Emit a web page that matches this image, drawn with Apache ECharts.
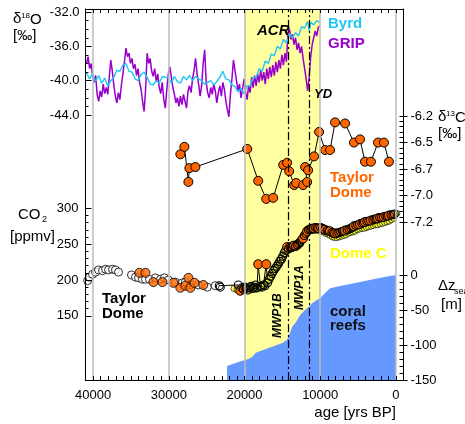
<!DOCTYPE html>
<html><head><meta charset="utf-8">
<script src="https://cdn.jsdelivr.net/npm/echarts@6/dist/echarts.min.js"></script>
<style>html,body{margin:0;padding:0;background:#fff}#c{width:465px;height:424px}</style>
</head><body><div id="c"></div>
<script>
// ---------- data ----------
const ageTickLabels = [40000, 30000, 20000, 10000, 0];
const d13Labels = ['-7.2', '-7.0', '-6.7', '-6.5', '-6.2'];
const bandAges = [20000, 10000];          // yellow band (ACR/YD period)
const mwpAges = [14200, 11500];           // MWP1B, MWP1A dash-dot lines

const grip = [[40860,-38.0],[40660,-37.2],[40460,-38.6],[40260,-38.0],[40060,-39.5],[39860,-40.2],[39660,-39.4],[39460,-41.6],[39260,-42.4],[39060,-41.2],[38860,-41.9],[38660,-40.4],[38460,-41.5],[38260,-40.8],[38060,-41.6],[37860,-39.6],[37660,-37.6],[37460,-38.9],[37260,-40.5],[37060,-41.8],[36860,-42.6],[36660,-41.4],[36460,-42.2],[36260,-40.5],[36060,-39.2],[35860,-37.8],[35660,-36.2],[35460,-37.2],[35260,-36.8],[35060,-38.0],[34860,-37.4],[34660,-38.6],[34460,-38.1],[34260,-39.4],[34060,-38.6],[33860,-40.2],[33660,-41.0],[33460,-42.4],[33260,-43.6],[33060,-41.0],[32860,-36.8],[32660,-38.0],[32460,-37.4],[32260,-38.9],[32060,-39.5],[31860,-38.6],[31660,-40.1],[31460,-39.2],[31260,-40.8],[31060,-41.5],[30860,-40.2],[30660,-42.2],[30460,-43.2],[30260,-41.0],[30060,-39.2],[29860,-38.4],[29660,-39.6],[29460,-40.8],[29260,-41.6],[29060,-42.6],[28860,-42.0],[28660,-43.0],[28460,-41.8],[28260,-42.8],[28060,-41.6],[27860,-42.4],[27660,-43.2],[27460,-41.2],[27260,-40.6],[27060,-41.4],[26860,-39.8],[26660,-38.8],[26460,-37.4],[26260,-39.2],[26060,-40.4],[25860,-41.8],[25660,-40.6],[25460,-38.0],[25260,-36.4],[25060,-40.2],[24860,-41.4],[24660,-42.0],[24460,-40.8],[24260,-41.6],[24060,-40.4],[23860,-41.2],[23660,-42.6],[23460,-41.4],[23260,-40.6],[23060,-41.8],[22860,-40.2],[22660,-41.0],[22460,-42.4],[22260,-43.4],[22060,-44.2],[21860,-41.6],[21660,-39.8],[21460,-37.6],[21260,-38.8],[21060,-40.0],[20860,-41.2],[20660,-40.4],[20460,-42.0],[20260,-41.0],[20060,-39.8],[19860,-41.4],[19660,-42.2],[19460,-40.6],[19260,-41.4],[19060,-39.6],[18860,-40.8],[18660,-39.4],[18460,-40.6],[18260,-39.2],[18060,-40.2],[17860,-38.8],[17660,-40.0],[17460,-39.0],[17260,-40.4],[17060,-38.6],[16860,-39.8],[16660,-38.4],[16460,-39.6],[16260,-38.2],[16060,-39.4],[15860,-37.8],[15660,-39.0],[15460,-37.6],[15260,-38.6],[15060,-37.0],[14860,-38.2],[14660,-36.8],[14460,-37.8],[14260,-34.4],[14060,-34.0],[13860,-35.2],[13660,-34.6],[13460,-35.8],[13260,-35.0],[13060,-36.4],[12860,-35.6],[12660,-36.8],[12460,-36.0],[12260,-37.4],[12060,-38.6],[11860,-39.8],[11660,-41.2],[11460,-39.6],[11260,-37.2],[11060,-35.8],[10860,-35.0],[10660,-34.2],[10460,-34.8],[10260,-33.8],[10060,-33.6]];

const byrd = [[40860,-39.1],[40460,-39.8],[40060,-39.2],[39660,-40.1],[39260,-39.4],[38860,-40.3],[38460,-39.7],[38060,-40.6],[37660,-40.0],[37260,-39.6],[36860,-38.8],[36460,-38.9],[36060,-38.2],[35660,-38.0],[35260,-38.9],[34860,-39.0],[34460,-39.8],[34060,-40.0],[33660,-39.3],[33260,-39.0],[32860,-39.6],[32460,-40.4],[32060,-40.5],[31660,-40.0],[31260,-40.3],[30860,-39.5],[30460,-39.6],[30060,-39.7],[29660,-40.3],[29260,-39.5],[28860,-40.1],[28460,-40.3],[28060,-39.5],[27660,-39.9],[27260,-39.4],[26860,-40.0],[26460,-39.5],[26060,-39.8],[25660,-40.0],[25260,-40.4],[24860,-40.2],[24460,-40.0],[24060,-40.5],[23660,-40.1],[23260,-39.6],[22860,-38.9],[22460,-39.8],[22060,-39.9],[21660,-40.5],[21260,-40.7],[20860,-41.3],[20460,-40.9],[20060,-41.5],[19660,-40.6],[19260,-40.6],[18860,-39.6],[18460,-39.6],[18060,-38.6],[17660,-38.9],[17260,-37.7],[16860,-38.0],[16460,-36.9],[16060,-37.1],[15660,-36.0],[15260,-36.3],[14860,-35.2],[14460,-35.6],[14060,-34.6],[13660,-35.0],[13260,-34.4],[12860,-34.8],[12460,-33.7],[12060,-33.9],[11660,-33.1],[11460,-34.2],[11260,-33.2],[10860,-33.5],[10460,-33.0],[10060,-33.2]];

const tdD13C = [[28470,-6.56],[27940,-6.49],[27410,-6.82],[27280,-6.69],[26490,-6.68],[19640,-6.51],[18190,-6.81],[17130,-6.98],[16210,-6.97],[14890,-6.66],[14370,-6.64],[14100,-6.72],[13440,-6.85],[13180,-6.83],[12260,-6.85],[11730,-6.82],[11990,-6.68],[11600,-6.71],[10810,-6.58],[10150,-6.35],[9360,-6.52],[8700,-6.52],[8040,-6.26],[6720,-6.27],[5540,-6.45],[4740,-6.42],[4090,-6.63],[3300,-6.63],[2370,-6.45],[1580,-6.45],[920,-6.63]];

const tdCO2Open = [[40720,199],[40460,204],[40070,208],[39670,211],[39280,214],[38750,213],[38350,215],[37960,214],[37430,215],[37040,214],[36640,211],[34930,207],[34400,204],[34000,203],[33480,201],[33080,201],[32550,201],[31760,203],[31100,201],[30580,203],[30050,200],[29130,197],[28210,196],[27810,197],[27150,193],[26100,193],[24910,190],[23860,192]];
const tdCO2Orange = [[33870,210],[33080,210],[32030,197],[30840,197],[29390,196],[28470,189],[27810,192],[27410,203],[27150,189],[26620,196],[25440,193]];
// deglacial / Holocene Taylor Dome CO2, connected; third field 1 = orange sample
const tdCO2Recent = [[23330,192,0],[23200,190,0],[20820,193,0],[20560,185,1],[20350,189,0],[20150,187,0],[19950,190,0],[19750,188,0],[19550,186,0],[19350,189,0],[19150,191,0],[18950,188,0],[18750,190,0],[18550,193,0],[18350,189,0],[18190,222,1],[17900,191,0],[17700,190,0],[17500,193,0],[17300,192,0],[17130,222,1],[16950,196,0],[16750,201,0],[16550,205,0],[16350,209,0],[16150,213,0],[15950,216,0],[15750,219,0],[15550,222,0],[15350,226,0],[15150,229,0],[14950,233,0],[14750,238,0],[14550,241,0],[14370,246,1],[14200,243,0],[14000,246,0],[13800,245,0],[13600,248,0],[13440,248,1],[13250,247,0],[13050,249,0],[12850,251,0],[12650,253,0],[12450,256,0],[12260,258,1],[12100,262,0],[11900,265,0],[11730,268,1],[11550,270,0],[11350,271,0],[11150,272,0],[10950,271,0],[10810,272,1],[10600,273,0],[10400,272,0],[10150,272,1],[9950,273,0],[9700,272,0],[9500,270,0],[9360,270,1],[9100,269,0],[8900,268,0],[8700,268,1],[8450,266,0],[8250,265,0],[8040,265,1],[7800,265,0],[7550,266,0],[7300,267,0],[7050,268,0],[6720,269,1],[6450,270,0],[6200,271,0],[5950,272,0],[5700,274,0],[5540,275,1],[5300,276,0],[5050,277,0],[4740,278,1],[4500,279,0],[4300,280,0],[4090,281,1],[3850,282,0],[3600,282,0],[3300,283,1],[3050,284,0],[2800,285,0],[2600,285,0],[2370,286,1],[2150,287,0],[1900,287,0],[1580,288,1],[1350,289,0],[1150,289,0],[920,290,1],[650,291,0],[400,291,0],[200,292,0]];

const domeC = [[21400,188],[21000,186],[20600,189],[20200,187],[19800,190],[19400,188],[19000,189],[18600,187],[18200,190],[17800,191],[17400,194],[17000,198],[16600,204],[16200,210],[15800,216],[15400,222],[15000,228],[14700,235],[14400,240],[14100,243],[13800,244],[13500,246],[13200,245],[12900,247],[12600,250],[12300,256],[12000,262],[11700,266],[11400,268],[11100,269],[10800,270],[10500,269],[10200,270],[9900,268],[9600,267],[9300,265],[9000,264],[8700,262],[8400,260],[8100,259],[7800,259],[7500,260],[7200,261],[6900,262],[6600,263],[6300,265],[6000,266],[5700,267],[5400,268],[5100,270],[4800,271],[4500,272],[4200,272],[3900,273],[3600,274],[3300,275],[3000,276],[2700,277],[2400,277],[2100,278],[1800,279],[1500,280],[1200,281],[900,282],[600,284],[300,286],[-130,293]];

const coral = [[22300,-130],[21000,-125],[19500,-120],[19000,-117],[18500,-111],[18000,-109],[17000,-105],[16000,-101],[15000,-97],[14400,-93],[14200,-88],[13900,-80],[13700,-74],[13200,-67],[12650,-57],[12100,-51],[11600,-46],[11000,-40],[10500,-36],[10000,-33],[9400,-26],[8700,-19],[7500,-16],[5700,-12],[3000,-6],[1500,-3],[0,0]];

// ---------- chart ----------
const FF = '"Liberation Sans", Arial, sans-serif';
const L = 85.5, R = 61.5;
const ageMin = -1000, ageMax = 41000;
const blk = {color: '#000', width: 1};

function hx(g) {
  return {type: 'value', gridIndex: g, min: ageMin, max: ageMax, interval: 1000, inverse: true, show: false,
    axisLine: {onZero: false}};
}
const lab = {color: '#000', fontFamily: FF, fontSize: 13};
const openStyle = {color: '#fff', borderColor: '#000', borderWidth: 1};
const orangeStyle = {color: '#FF6600', borderColor: '#000', borderWidth: 1};

const option = {
  animation: false,
  backgroundColor: '#fff',
  grid: [
    {left: L, right: R, top: 9, bottom: 44, outerBoundsMode: 'none'},
    {left: L, right: R, top: 12, bottom: 424 - 115, outerBoundsMode: 'none'},
    {left: L, right: R, top: 208.3, bottom: 424 - 315.8, outerBoundsMode: 'none'},
    {left: L, right: R, top: 116, bottom: 424 - 222.3, outerBoundsMode: 'none'},
    {left: L, right: R, top: 275, bottom: 44, outerBoundsMode: 'none'}
  ],
  xAxis: [
    {type: 'value', gridIndex: 0, position: 'bottom', min: ageMin, max: ageMax, interval: 1000, inverse: true, z: 10,
      axisLine: {show: true, onZero: false, lineStyle: blk},
      axisTick: {show: true, inside: true, length: 4, lineStyle: blk},
      axisLabel: Object.assign({margin: 9, formatter: v => ageTickLabels.includes(v) ? String(v) : ''}, lab),
      splitLine: {show: false}},
    {type: 'value', gridIndex: 0, position: 'top', min: ageMin, max: ageMax, interval: 1000, inverse: true, z: 10,
      axisLine: {show: true, onZero: false, lineStyle: blk},
      axisTick: {show: true, inside: true, length: 4, lineStyle: blk},
      axisLabel: {show: false}, splitLine: {show: false}},
    hx(1), hx(2), hx(3), hx(4)
  ],
  yAxis: [
    {type: 'value', gridIndex: 0, position: 'left', min: 0, max: 1, z: 10,
      axisLine: {show: true, onZero: false, lineStyle: blk}, axisTick: {show: false}, axisLabel: {show: false}, splitLine: {show: false}},
    {type: 'value', gridIndex: 0, position: 'right', min: 0, max: 1, z: 10,
      axisLine: {show: true, onZero: false, lineStyle: blk}, axisTick: {show: false}, axisLabel: {show: false}, splitLine: {show: false}},
    {type: 'value', gridIndex: 1, position: 'left', min: -44, max: -32, interval: 4, z: 10,
      axisLine: {show: false, onZero: false},
      axisTick: {show: true, inside: true, length: 6, lineStyle: blk},
      minorTick: {show: true, splitNumber: 4, length: 3, lineStyle: blk},
      axisLabel: Object.assign({margin: 6, formatter: v => v.toFixed(1)}, lab),
      splitLine: {show: false}},
    {type: 'value', gridIndex: 2, position: 'left', min: 150, max: 300, interval: 50, z: 10,
      axisLine: {show: false, onZero: false},
      axisTick: {show: true, inside: true, length: 6, lineStyle: blk},
      minorTick: {show: true, splitNumber: 5, length: 3, lineStyle: blk},
      axisLabel: Object.assign({margin: 7}, lab),
      splitLine: {show: false}},
    {type: 'value', gridIndex: 3, position: 'right', min: -7.2, max: -6.2, interval: 0.25, z: 10,
      axisLine: {show: false, onZero: false},
      axisTick: {show: true, inside: false, length: 4, lineStyle: blk},
      axisLabel: Object.assign({margin: 7, formatter: v => d13Labels[Math.round((v + 7.2) / 0.25)] || ''}, lab),
      splitLine: {show: false}},
    {type: 'value', gridIndex: 3, position: 'right', min: -7.2, max: -6.2, interval: 0.05, z: 10,
      axisLine: {show: false, onZero: false},
      axisTick: {show: true, inside: true, length: 4, lineStyle: blk},
      axisLabel: {show: false}, splitLine: {show: false}},
    {type: 'value', gridIndex: 4, position: 'right', min: -150, max: 0, interval: 50, z: 10,
      axisLine: {show: false, onZero: false},
      axisTick: {show: true, inside: false, length: 4, lineStyle: blk},
      axisLabel: Object.assign({margin: 7}, lab),
      splitLine: {show: false}},
    {type: 'value', gridIndex: 4, position: 'right', min: -150, max: 0, interval: 10, z: 10,
      axisLine: {show: false, onZero: false},
      axisTick: {show: true, inside: true, length: 4, lineStyle: blk},
      axisLabel: {show: false}, splitLine: {show: false}}
  ],
  series: [
    {type: 'line', xAxisIndex: 0, yAxisIndex: 0, data: [], z: 0, silent: true,
      markArea: {silent: true, itemStyle: {color: '#FFFFA0'}, data: [[{xAxis: bandAges[0]}, {xAxis: bandAges[1]}]]}},
    {type: 'line', xAxisIndex: 5, yAxisIndex: 6, data: coral, symbol: 'none', z: 1, silent: true,
      lineStyle: {width: 0}, areaStyle: {color: '#6699FF', opacity: 1, origin: 'start'}},
    {type: 'line', xAxisIndex: 0, yAxisIndex: 0, data: [], z: 2, silent: true,
      markLine: {silent: true, symbol: ['none', 'none'], label: {show: false},
        data: ageTickLabels.map(a => ({xAxis: a, lineStyle: {color: '#BDBDBD', width: 1.5, type: 'solid'}}))
          .concat(mwpAges.map(a => ({xAxis: a, lineStyle: {color: '#000', width: 1.2, type: [8, 3, 2, 3]}})))}},
    {type: 'line', name: 'GRIP', xAxisIndex: 2, yAxisIndex: 2, data: grip, symbol: 'none', z: 3, clip: false,
      lineStyle: {color: '#9900CC', width: 1.5}},
    {type: 'line', name: 'Byrd', xAxisIndex: 2, yAxisIndex: 2, data: byrd, symbol: 'none', z: 3, clip: false,
      lineStyle: {color: '#1EC6F6', width: 1.4}},
    {type: 'line', name: 'TD d13C', xAxisIndex: 4, yAxisIndex: 4, data: tdD13C, z: 4, clip: false,
      symbol: 'circle', symbolSize: 9, showAllSymbol: true,
      lineStyle: {color: '#000', width: 1}, itemStyle: orangeStyle},
    {type: 'scatter', xAxisIndex: 3, yAxisIndex: 3, data: domeC, z: 4, symbol: 'circle', symbolSize: 6,
      itemStyle: {color: '#FFFF33', borderColor: '#000', borderWidth: 0.8}},
    {type: 'scatter', xAxisIndex: 3, yAxisIndex: 3, data: tdCO2Open, z: 4, symbol: 'circle', symbolSize: 8,
      itemStyle: openStyle},
    {type: 'scatter', xAxisIndex: 3, yAxisIndex: 3, data: tdCO2Orange, z: 4, symbol: 'circle', symbolSize: 9,
      itemStyle: orangeStyle},
    {type: 'line', xAxisIndex: 3, yAxisIndex: 3, z: 4, symbol: 'circle', symbolSize: 8, showAllSymbol: true,
      lineStyle: {color: '#000', width: 1},
      data: tdCO2Recent.map(p => ({value: [p[0], p[1]],
        itemStyle: p[2] ? orangeStyle : {color: 'rgba(255,255,255,0)', borderColor: '#000', borderWidth: 1.1},
        symbolSize: p[2] ? 9 : 8}))}
  ],
  graphic: []
};

function txt(x, y, s, font, fill, extra) {
  return Object.assign({type: 'text', x: x, y: y, z: 100, silent: true,
    style: {text: s, font: font + ' ' + FF, fill: fill || '#000', verticalAlign: 'middle', align: 'left'}}, extra || {});
}
const g = option.graphic;
// axis titles
g.push(txt(13, 19, 'δ', '15px'), txt(21, 16, '18', '8px'), txt(30, 19.5, 'O', '15px'), txt(13, 36, '[‰]', '15px'));
g.push(txt(18, 215, 'CO', '15px'), txt(42, 220, '2', '9px'), txt(10, 237, '[ppmv]', '15px'));
g.push(txt(438, 117, 'δ', '15px'), txt(446, 114, '13', '8px'), txt(455, 117.5, 'C', '15px'), txt(438, 134, '[‰]', '15px'));
g.push(txt(438, 286, 'Δz', '15px'), txt(454, 292, 'sea', '9px'), txt(441, 305, '[m]', '15px'));
g.push({type: 'text', x: 396, y: 413, z: 100, silent: true,
  style: {text: 'age [yrs BP]', font: '15px ' + FF, fill: '#000', verticalAlign: 'middle', align: 'right'}});
// series labels
g.push(txt(328, 24, 'Byrd', 'bold 15px', '#1EC6F6'), txt(328, 43.5, 'GRIP', 'bold 15px', '#9900CC'));
g.push(txt(257, 31, 'ACR', 'italic bold 15px'), txt(314, 94, 'YD', 'italic bold 13px'));
g.push(txt(330, 178, 'Taylor', 'bold 15px', '#FF6600'), txt(330, 193, 'Dome', 'bold 15px', '#FF6600'));
g.push(txt(330, 253.5, 'Dome C', 'bold 15px', '#FFFF00'));
g.push(txt(330, 312, 'coral', 'bold 15px', '#111'), txt(330, 326, 'reefs', 'bold 15px', '#111'));
g.push(txt(102, 298.5, 'Taylor', 'bold 15px'), txt(102, 314, 'Dome', 'bold 15px'));
g.push(txt(278, 338, 'MWP1B', 'italic bold 12px', '#000', {rotation: Math.PI / 2}));
g.push(txt(300, 310, 'MWP1A', 'italic bold 12px', '#000', {rotation: Math.PI / 2}));

const chart = echarts.init(document.getElementById('c'), null, {renderer: 'canvas'});
chart.setOption(option);
</script></body></html>
